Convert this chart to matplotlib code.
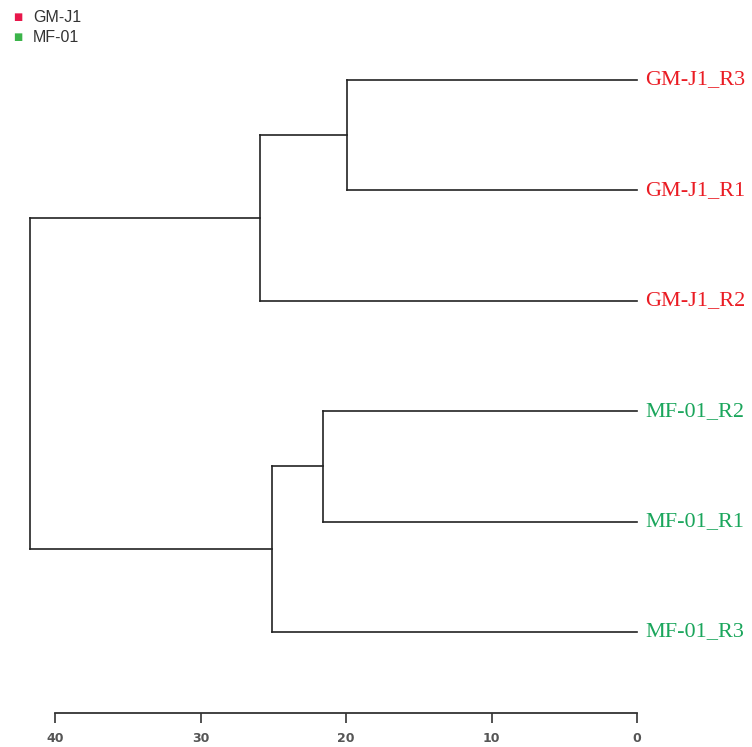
import matplotlib.pyplot as plt

# leaves from top to bottom
leaves = ['GM-J1_R3', 'GM-J1_R1', 'GM-J1_R2', 'MF-01_R2', 'MF-01_R1', 'MF-01_R3']
groups = ['GM-J1', 'GM-J1', 'GM-J1', 'MF-01', 'MF-01', 'MF-01']

# merges: (left child, right child, height); children are leaf index or 'n<k>' for node k
merges = [
    (0, 1, 19.9),
    ('n0', 2, 25.9),
    (3, 4, 21.6),
    ('n2', 5, 25.1),
    ('n1', 'n3', 41.7),
]

ticks = [40, 30, 20, 10, 0]
group_colors = {'GM-J1': '#ea1c24', 'MF-01': '#1ba65c'}
legend_colors = {'GM-J1': '#e8174b', 'MF-01': '#3bb44a'}

fig = plt.figure(figsize=(7.52, 7.47), dpi=100)
W, H = 752, 747
# axes spans x: 40 -> px 55, 0 -> px 637 ; y: top leaf px 80, axis line px 713
ax = fig.add_axes([55 / W, 34 / H, (637 - 55) / W, (713 - 80) / H])

n = len(leaves)
ypos = {i: n - 1 - i for i in range(n)}
hpos = {i: 0.0 for i in range(n)}

for k, (a, b, h) in enumerate(merges):
    ya, yb = ypos[a], ypos[b]
    ha, hb = hpos[a], hpos[b]
    ax.plot([ha, h], [ya, ya], color='#222222', lw=1.2, clip_on=False)
    ax.plot([hb, h], [yb, yb], color='#222222', lw=1.2, clip_on=False)
    ax.plot([h, h], [ya, yb], color='#222222', lw=1.2, clip_on=False)
    ypos['n%d' % k] = (ya + yb) / 2
    hpos['n%d' % k] = h

for i, lab in enumerate(leaves):
    ax.text(-0.55, ypos[i], lab, color=group_colors[groups[i]], fontsize=16,
            family='Liberation Serif', ha='left', va='center', clip_on=False)

ax.set_xlim(40, 0)
ax.set_ylim(-0.734, n - 1)
ax.set_xticks(ticks)
ax.set_xticklabels([str(t) for t in ticks], fontweight='semibold')
ax.set_yticks([])
for s in ['top', 'right', 'left']:
    ax.spines[s].set_visible(False)
ax.spines['bottom'].set_color('#333333')
ax.spines['bottom'].set_linewidth(1.3)
ax.tick_params(axis='x', direction='out', length=7, width=1.2, color='#333333',
               labelsize=9, labelcolor='#555555', pad=7)

# group legend in the top-left corner
for j, g in enumerate(['GM-J1', 'MF-01']):
    y = 1 - (17 + 20 * j) / H
    fig.text(18 / W, y, '\u25a0', color=legend_colors[g], fontsize=7, ha='center', va='center')
    fig.text(33 / W, y, g, color='#333333', fontsize=11.5, family='Liberation Sans',
             ha='left', va='center')

fig.savefig('out.png', dpi=100)
